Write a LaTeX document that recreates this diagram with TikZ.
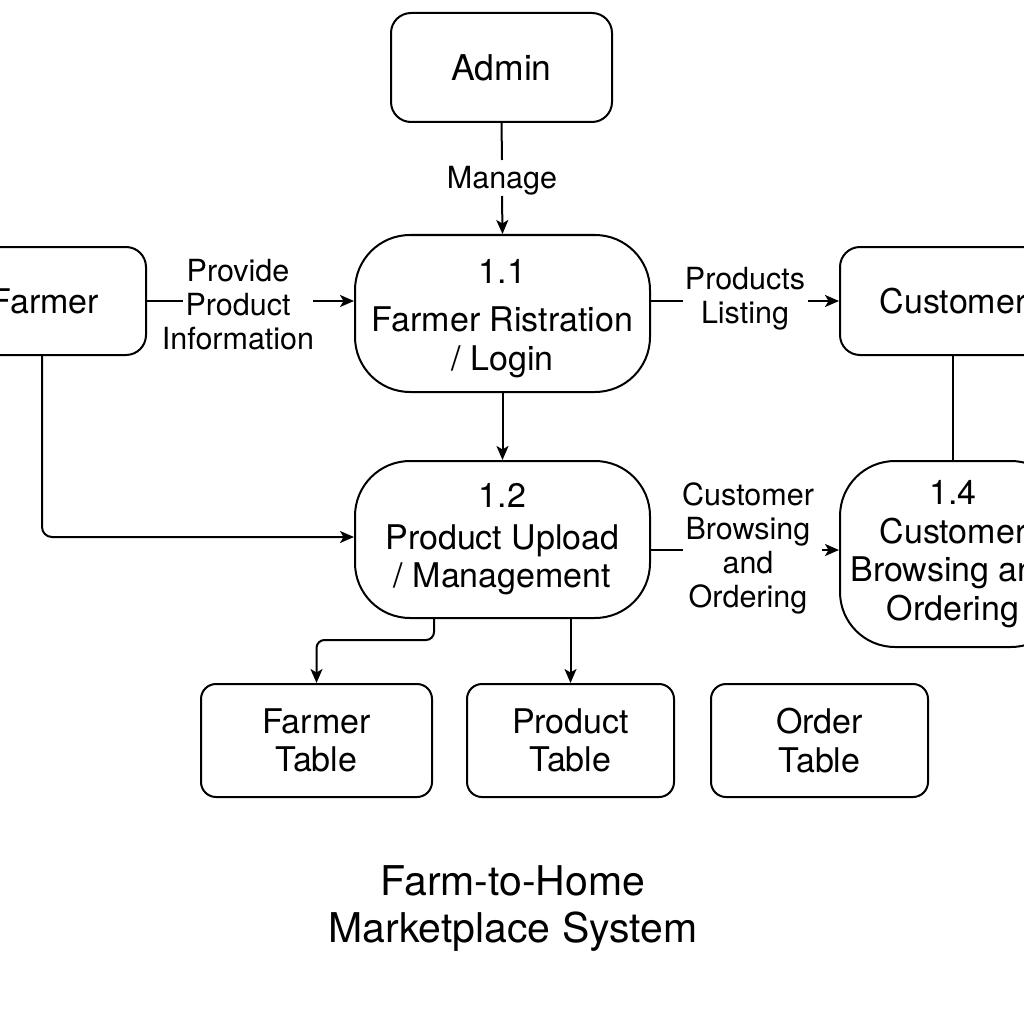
\documentclass[tikz,border=0pt]{standalone}
\usepackage{fontspec}
\setmainfont{TeX Gyre Heros}
\usetikzlibrary{arrows.meta}
\begin{document}
\begin{tikzpicture}[x=1pt,y=-1pt,line width=2pt,
  box/.style={draw,rectangle,rounded corners=#1,align=center,inner sep=0pt,font=\fontsize{34}{38.5}\selectfont},
  txt/.style={align=center,inner sep=0pt,font=\fontsize{34}{38.5}\selectfont},
  lbl/.style={align=center,inner sep=0pt,font=\fontsize{30.5}{34}\selectfont},
  ttl/.style={align=center,inner sep=0pt,font=\fontsize{41}{47}\selectfont},
  arr/.style={-{Stealth[length=14pt,width=12pt,inset=3.5pt]}}]
\fill[white] (0,0) rectangle (1024,1024);
\useasboundingbox (0,0) rectangle (1024,1024);

% nodes
\node[box=20,minimum width=221pt,minimum height=109pt,font=\fontsize{35.5}{40}\selectfont] (admin) at (501.5,67.5) {Admin};
\node[box=55,minimum width=295pt,minimum height=157pt,
  label={[txt,yshift=-5pt]center:{1.1\\[10pt]Farmer Ristration\\/ Login}}] (p11) at (502.5,313.5) {};
\node[box=55,minimum width=295pt,minimum height=157pt] (p12) at (502.5,539.5) {1.2\\[3pt]Product Upload\\/ Management};
\node[box=20,minimum width=202pt,minimum height=108pt] (farmer) at (45,301) {Farmer};
\node[box=20,minimum width=226pt,minimum height=108pt] (cust) at (953,301) {Customer};
\node[box=55,minimum width=226pt,minimum height=186pt] (p14) at (953,554) {1.4\\Customer\\Browsing and\\Ordering};
\node[box=15,minimum width=231pt,minimum height=113pt] (ft) at (316.5,740.5) {Farmer\\Table};
\node[box=15,minimum width=207pt,minimum height=113pt] (pt) at (570.5,740.5) {Product\\Table};
\node[box=15,minimum width=217pt,minimum height=113pt] (ot) at (819.5,740.5) {Order\\Table};
\node[ttl] (title) at (513,909) {Farm-to-Home\\Marketplace System};

% labels
\node[lbl] (lmanage) at (502,181) {Manage};
\node[lbl] (lprov) at (238,305) {Provide\\Product\\Information};
\node[lbl] (llist) at (745,299) {Products\\Listing};
\node[lbl] (lcbo) at (748,548) {Customer\\Browsing\\and\\Ordering};

% gap coordinates
\coordinate (m1) at (502,160);
\coordinate (m2) at (502,196);
\coordinate (g1) at (183,301);
\coordinate (g2) at (313,301);
\coordinate (g3) at (683,301);
\coordinate (g4) at (808,301);
\coordinate (g5) at (683,550);
\coordinate (g6) at (822,550);
\coordinate (c1) at (434,640);
\coordinate (c2) at (42,0);

% connectors
\draw (admin.south) -- (m1);
\draw[arr] (m2) -- (p11.north);
\draw (farmer.east |- g1) -- (g1);
\draw[arr] (g2) -- (p11.west |- g2);
\draw (p11.east |- g3) -- (g3);
\draw[arr] (g4) -- (cust.west |- g4);
\draw (p12.east |- g5) -- (g5);
\draw[arr] (g6) -- (p14.west |- g6);
\draw[arr] (p11.south) -- (p12.north);
\draw[arr,rounded corners=10pt] (c2 |- farmer.south) |- (p12.west |- 0,537);
\draw (cust.south) -- (p14.north);
\draw[arr,rounded corners=8pt] (c1 |- p12.south) -- (c1) -| (ft.north);
\draw[arr] (pt.north |- p12.south) -- (pt.north);
\end{tikzpicture}
\end{document}
